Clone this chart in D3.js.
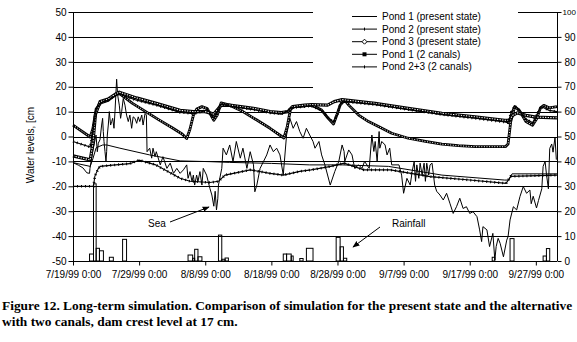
<!DOCTYPE html>
<html>
<head>
<meta charset="utf-8">
<script src="https://cdn.jsdelivr.net/npm/d3@7"></script>
<style>
  html, body { margin: 0; padding: 0; background: #fff; }
  svg { display: block; }
  text { font-family: "Liberation Sans", Arial, sans-serif; fill: #000; }
</style>
</head>
<body>
<svg id="chart" width="577" height="342"></svg>
<script>
// ---- data: days after 7/19/99 0:00, water level in cm ----
const pond1Present = [[0,-10.5],[2.6,-12],[3.0,-9],[3.5,-4.5],[4.5,-3.4],[5.1,-3.4],[7.1,-4.7],[11.6,-7.4],[16.2,-9.8],[20.7,-10.1],[23.7,-10.4],[30,-10.8],[35.8,-11.4],[40.7,-11.4],[47.7,-12],[55.8,-15.5],[65.3,-17.5],[65.9,-17.5],[66.4,-15],[73.2,-15]];

const pond2Present = [[0,-2],[2.6,-4.2],[3.0,2],[3.5,11],[4.1,13.5],[5.3,14.5],[6.6,16.8],[7.0,17],[9.6,14.6],[12.6,12.6],[16.2,9.7],[18.2,9.2],[19.5,10],[20.3,10.8],[21.3,7.5],[22.4,13],[23.7,12.2],[27.3,10.8],[29.8,9.5],[31.5,9],[32.5,10.3],[33,11.5],[35,12],[36,12.3],[37.6,10.5],[38.6,7.5],[39.4,5.8],[40,9],[40.5,13.5],[41,14],[45.7,12.8],[50.7,10.8],[55.8,8.8],[60.8,7.3],[65.3,5.8],[65.8,5.5],[66.3,10],[66.8,12.3],[67.5,10.5],[68.5,7],[69.5,5.5],[70.2,9],[70.8,12],[72,10.5],[73.2,10]];

const pond3Present = [[0,4.6],[2.6,-0.2],[3.0,3],[3.5,11],[4.2,13.5],[5.3,14.5],[6.6,17],[7.0,17.3],[7.5,16.3],[9,13.3],[11,10],[13,6.7],[15,3.5],[16.5,1],[17.2,-0.8],[17.7,3],[18.2,8.5],[18.7,11],[19.5,12],[20.3,11.2],[21.3,6.5],[21.8,8.5],[22.4,13.5],[23.7,12.6],[25.7,10],[27.8,6.6],[29.8,3.3],[31.3,0.5],[31.9,-0.6],[32.4,4],[32.9,11],[33.5,12],[35,12.3],[36.1,12.6],[37.6,10.6],[38.6,7.3],[39.4,5],[39.9,8.6],[40.4,12.6],[41.1,14.6],[41.7,12.6],[43.2,8.6],[44.7,6],[46.2,4],[48.2,1.3],[50.7,-0.7],[53.3,-2],[55.8,-3.1],[58.3,-3.7],[60.8,-4.1],[65.4,-4.1],[65.8,-3],[66.2,6],[66.8,12],[67.5,10.5],[68.5,6],[69.5,4.5],[70.1,7],[70.7,11.5],[71.2,12.5],[72,11.5],[73.2,12]];

const pond1Canals = [[0,-7.8],[2.6,-9.4],[3.0,-3],[3.4,9],[4.1,14],[5.3,15],[6.6,17.3],[7.0,17.8],[9.6,15.5],[12.6,13.3],[16.2,10.5],[18.2,10],[20,10],[21.3,9],[22.4,12.5],[23.7,12.6],[27.3,11.3],[29.8,10],[31.5,9.6],[32.5,10],[33.2,12],[35,12.6],[36.1,12.8],[38.5,12.6],[39.5,14],[40.7,14.8],[45.7,13.3],[50.7,11.3],[55.8,9.3],[60.8,7.9],[65.3,6.5],[66,6.5],[66.5,8.5],[67.2,9.5],[68.5,8.5],[70,7.8],[73.2,7.5]];

const pond23Canals = [[0,-20],[3.1,-20],[3.3,-16],[3.8,-13],[4.1,-12],[6,-11.5],[8.6,-10.9],[10,-9.5],[12.5,-11.4],[16.2,-16.8],[17.7,-18],[20.7,-18.5],[22,-18],[23,-15.5],[26.8,-13.4],[29.8,-14.8],[31.8,-15.5],[34.3,-14],[36,-13.4],[39,-12],[41,-10.7],[44,-13.4],[48,-13.4],[54,-16.1],[60,-17.5],[65.5,-18.8],[66.2,-16],[73.2,-15.5]];

const seaLevel = [[0,-10.5],[0.8,-11.5],[1.5,-12.6],[2.1,-14.6],[2.5,-14.8],[2.57,-12.8],[2.97,-6.1],[3.18,-3.4],[3.48,0.6],[3.68,-6.1],[3.83,-2.7],[4.08,-1.3],[4.33,4.6],[4.48,7.3],[4.58,2],[4.69,-2],[4.84,-6.1],[4.99,-10.1],[5.09,-6.1],[5.19,0.6],[5.34,4.6],[5.49,10],[5.69,4.6],[5.85,6],[6.0,7.3],[6.2,3.3],[6.35,10],[6.6,23],[6.75,16.7],[7.0,12.6],[7.2,7.3],[7.36,10],[7.6,15.3],[7.86,12.6],[8.1,8.6],[8.36,6],[8.6,8.6],[8.87,3.3],[9.1,7.9],[9.37,7.3],[9.63,5.3],[9.87,7.9],[10.1,6],[10.4,8.6],[10.6,4.6],[10.9,9.3],[11.1,8.6],[11.2,-6.1],[11.6,-4.7],[11.9,-8.7],[12.1,-4.7],[12.4,-8.1],[12.6,-6.1],[13.2,-11.4],[13.6,-8.1],[14.2,-12.8],[14.7,-10.7],[15.2,-14.8],[15.7,-12.8],[16.2,-14.8],[16.7,-13.4],[17.2,-11.4],[17.4,-16.8],[17.7,-14.1],[18.0,-18.1],[18.2,-15.5],[18.4,-19.5],[18.7,-15.5],[18.9,-18.1],[19.2,-14.1],[19.5,-19.5],[19.7,-12.8],[20.2,-15.5],[20.7,-20.8],[21.0,-23.5],[21.3,-28],[21.5,-22],[21.7,-29.5],[21.9,-25],[22.0,-19.5],[22.5,-12.8],[22.7,-4.7],[23.2,-7.4],[23.7,-3.4],[24.2,-10.1],[24.7,-2],[25.3,-8.7],[25.7,-4.7],[26.3,-12.8],[26.8,-6.1],[27.3,-11.4],[27.5,-22.2],[27.8,-19.5],[28.3,-12.8],[28.8,-10.1],[29.3,-7.4],[29.8,-3.4],[30.3,-6.1],[30.8,-4.7],[31.3,-7.4],[31.8,-15.5],[32.3,0.6],[32.8,7.3],[33.3,3.3],[33.8,6],[34.3,2],[34.8,-0.7],[35.3,3.3],[35.8,0.6],[36.3,-2],[36.6,-4.7],[37.2,-2],[37.6,-7.4],[38.1,-11.4],[38.9,-19.5],[39.6,-14],[40.2,-10],[40.7,-3.4],[41.0,-6],[41.1,-10],[41.7,-5.4],[42.2,-7.4],[42.6,-12.8],[43.2,-11.4],[43.7,-12.8],[44.1,-10],[44.8,-12.8],[45.2,0.6],[45.5,-6],[45.7,-2],[46.0,-10],[46.3,2],[46.4,-4.7],[46.7,-2],[47.2,-3.4],[47.5,-7.4],[47.9,-4.7],[48.2,-11.4],[49.3,-11.4],[49.7,-15.5],[50.0,-22.8],[50.5,-16.8],[51.0,-19.5],[51.3,-14],[51.6,-10],[51.8,-18],[52.0,-11.4],[52.3,-16.8],[52.5,-10.7],[52.8,-15.5],[53.1,-10.7],[53.3,-18],[53.5,-10.7],[53.8,-15.5],[54.0,-11.4],[54.3,-10.7],[54.7,-19.5],[55.0,-22],[55.5,-23.5],[56.0,-25.5],[56.5,-22.8],[57.0,-26.8],[57.5,-30.9],[58.0,-28.2],[58.5,-24.8],[59.0,-28.9],[59.5,-28.2],[60.0,-30.9],[60.5,-30.2],[61.1,-32.2],[61.5,-37.5],[61.8,-42.2],[62.0,-36.2],[62.6,-37.5],[63.0,-44.2],[63.5,-38.9],[63.8,-49.6],[64.0,-44.2],[64.3,-40.9],[64.6,-42.9],[65.1,-48.3],[65.6,-41.6],[65.8,-40.2],[66.1,-33.5],[66.6,-28.2],[67.1,-29.5],[67.6,-24.1],[68.1,-20.1],[68.6,-22.8],[69.1,-21.5],[69.3,-27],[69.6,-24],[70.1,-28.7],[70.4,-25.7],[70.9,-21],[71.1,-12],[71.4,-10],[71.6,-15],[71.9,-21],[72.1,-4.8],[72.4,-3],[72.6,-6.3],[72.9,-0.3],[73.1,-9.3]];

// rainfall, mm: [start day, end day, amount]
const rainfall = [[2.5,3.1,2.8],[3.1,3.5,31],[3.5,4.0,5.1],[4.0,4.6,4.1],[5.5,6.1,1.5],[7.5,8.1,8.7],[17.4,18.1,2.4],[18.1,18.4,1.1],[18.4,18.9,4.7],[18.9,19.5,1.7],[22.0,22.5,10.4],[22.5,23.0,0.7],[23.0,23.5,1.2],[31.8,32.3,2.8],[32.3,33.0,2.8],[33.0,33.3,2],[34.3,34.8,1],[35.3,36.3,5.1],[39.8,40.4,9.5],[40.4,40.9,5.7],[40.9,41.4,1.1],[63.4,63.8,1.5],[66.1,66.7,9],[71.1,71.6,2],[71.6,72.1,5]];

const leftTicks = [-50,-40,-30,-20,-10,0,10,20,30,40,50];
const rightTicks = [0,10,20,30,40,50,60,70,80,90,100];
const dateTicks = [0,10,20,30,40,50,60,70];
const legendNames = ["Pond 1 (present state)","Pond 2 (present state)","Pond 3 (present state)","Pond 1 (2 canals)","Pond 2+3 (2 canals)"];
const captionLines = ["Figure 12. Long-term simulation. Comparison of simulation for the present state and the alternative",
                      "with two canals, dam crest level at 17 cm."];

// ---- layout ----
const svg = d3.select("#chart");
const t0 = Date.UTC(1999, 6, 19);
const toDate = d => new Date(t0 + d * 864e5);
const plot = {left: 73, right: 557, top: 12, bottom: 261};

const x = d3.scaleUtc().domain([toDate(0), toDate(73.2)]).range([plot.left, plot.right]);
const yL = d3.scaleLinear().domain([-50, 50]).range([plot.bottom, plot.top]);
const yR = d3.scaleLinear().domain([0, 100]).range([plot.bottom, plot.top]);

// horizontal gridlines
svg.append("g").selectAll("line").data(leftTicks.filter(v => v > -50)).join("line")
  .attr("x1", plot.left).attr("x2", plot.right)
  .attr("y1", d => Math.round(yL(d)) + 0.5).attr("y2", d => Math.round(yL(d)) + 0.5)
  .attr("stroke", "#000").attr("stroke-width", 1);

// rainfall bars (right axis)
svg.append("g").selectAll("rect").data(rainfall).join("rect")
  .attr("x", d => x(toDate(d[0])))
  .attr("width", d => x(toDate(d[1])) - x(toDate(d[0])))
  .attr("y", d => yR(d[2]))
  .attr("height", d => yR(0) - yR(d[2]))
  .attr("fill", "none").attr("stroke", "#000").attr("stroke-width", 1);

const line = d3.line().x(d => x(toDate(d[0]))).y(d => yL(d[1]));
const g = svg.append("g");

function drawPlain(data, w) {
  g.append("path").attr("d", line(data)).attr("fill", "none")
    .attr("stroke", "#000").attr("stroke-width", w).attr("stroke-linejoin", "round");
}
// marker chains: dark band with light dashes
function drawChain(data, w, inner, dash) {
  g.append("path").attr("d", line(data)).attr("fill", "none")
    .attr("stroke", "#000").attr("stroke-width", w).attr("stroke-linejoin", "round");
  g.append("path").attr("d", line(data)).attr("fill", "none")
    .attr("stroke", "#fff").attr("stroke-width", inner).attr("stroke-dasharray", dash);
}
// small cross markers along a thin line
function drawTicked(data) {
  g.append("path").attr("d", line(data)).attr("fill", "none")
    .attr("stroke", "#000").attr("stroke-width", 1.1);
  g.append("path").attr("d", line(data)).attr("fill", "none")
    .attr("stroke", "#000").attr("stroke-width", 2.6).attr("stroke-dasharray", "1,3");
}

drawPlain(pond1Present, 1);
drawTicked(pond23Canals);
drawPlain(seaLevel, 1);
drawChain(pond3Present, 2.8, 1, "1,1.6");
drawChain(pond1Canals, 3.2, 1.1, "1.3,1.3");
drawTicked(pond2Present);

// axes
const axisL = svg.append("g").attr("transform", `translate(${plot.left + 0.5},0)`)
  .call(d3.axisLeft(yL).tickValues(leftTicks).tickSize(5).tickPadding(2)
    .tickFormat(d => d));
const axisR = svg.append("g").attr("transform", `translate(${plot.right + 0.5},0)`)
  .call(d3.axisRight(yR).tickValues(rightTicks).tickSize(4).tickPadding(3));
const axisB = svg.append("g").attr("transform", `translate(0,${plot.bottom + 0.5})`)
  .call(d3.axisBottom(x).tickValues(dateTicks.map(toDate)).tickSize(4).tickPadding(5)
    .tickFormat(d3.utcFormat("%-m/%-d/%y %-H:%M")));
[axisL, axisR, axisB].forEach(a => {
  a.select(".domain").attr("stroke", "#000");
  a.selectAll(".tick line").attr("stroke", "#000");
  a.selectAll("text").attr("font-family", "Liberation Sans, Arial, sans-serif")
    .attr("font-size", 10).attr("fill", "#000");
});
// the top right label sits against the page edge: smaller so it fits
axisR.selectAll(".tick text").filter(d => d === 100)
  .attr("font-size", 8).attr("x", 5);
axisB.select(".domain").attr("d", `M${plot.left},0H${plot.right}`);
axisL.select(".domain").attr("d", `M0,${plot.top}V${plot.bottom}`);
axisR.select(".domain").attr("d", `M0,${plot.top}V${plot.bottom}`);

// y title
svg.append("text").attr("transform", "translate(34,145) rotate(-90)")
  .attr("text-anchor", "middle").attr("font-size", 10).text("Water levels, [cm");

// legend
const lg = svg.append("g");
lg.append("rect").attr("x", 313).attr("y", 0).attr("width", 205).attr("height", 95).attr("fill", "#fff");
const rowY = i => 16 + i * 12.6;
legendNames.forEach((name, i) => {
  const y = rowY(i) + 0.5;
  lg.append("line").attr("x1", 352).attr("x2", 377).attr("y1", y).attr("y2", y)
    .attr("stroke", "#000").attr("stroke-width", 1);
  const cx = 364.5;
  if (i === 1 || i === 4) {
    lg.append("line").attr("x1", cx).attr("x2", cx).attr("y1", y - 1.5).attr("y2", y + 1.5).attr("stroke", "#000");
  } else if (i === 2) {
    lg.append("path").attr("d", `M${cx},${y-2.5}L${cx+2.5},${y}L${cx},${y+2.5}L${cx-2.5},${y}Z`)
      .attr("fill", "#fff").attr("stroke", "#000");
  } else if (i === 3) {
    lg.append("rect").attr("x", cx - 2).attr("y", y - 2).attr("width", 4).attr("height", 4).attr("fill", "#000");
  }
  lg.append("text").attr("x", 382).attr("y", y).attr("dy", "0.35em")
    .attr("font-size", 10).text(name);
});

// annotations
const ann = svg.append("g");
ann.append("defs").append("marker").attr("id", "arrow").attr("viewBox", "0 0 10 10")
  .attr("refX", 9).attr("refY", 5).attr("markerWidth", 7).attr("markerHeight", 7)
  .attr("orient", "auto").append("path").attr("d", "M0,1L10,5L0,9Z").attr("fill", "#000");
ann.append("text").attr("x", 148).attr("y", 223).attr("dy", "0.35em").attr("font-size", 10).text("Sea");
ann.append("line").attr("x1", 170).attr("y1", 222).attr("x2", 209).attr("y2", 207)
  .attr("stroke", "#000").attr("marker-end", "url(#arrow)");
ann.append("text").attr("x", 392).attr("y", 223).attr("dy", "0.35em").attr("font-size", 10).text("Rainfall");
ann.append("line").attr("x1", 380).attr("y1", 227).attr("x2", 353).attr("y2", 247)
  .attr("stroke", "#000").attr("marker-end", "url(#arrow)");

// caption
const cap = svg.append("g");
const c1 = cap.append("text").attr("x", 2).attr("y", 310).attr("font-size", 12)
  .style("font-family", "Liberation Serif, serif").style("font-weight", "bold").text(captionLines[0]);
const natural = c1.node().getComputedTextLength();
const fs = 12 * 571 / natural;
c1.attr("font-size", fs);
cap.append("text").attr("x", 2).attr("y", 326).attr("font-size", fs)
  .style("font-family", "Liberation Serif, serif").style("font-weight", "bold").text(captionLines[1]);
</script>
</body>
</html>
